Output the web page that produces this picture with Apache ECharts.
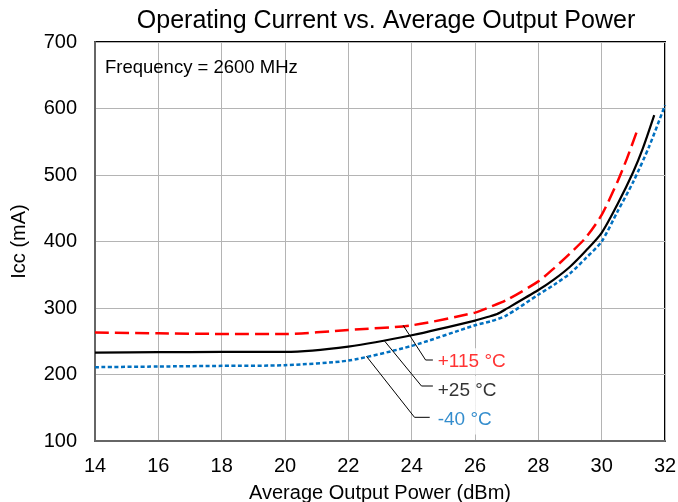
<!DOCTYPE html>
<html>
<head>
<meta charset="utf-8">
<script src="https://cdn.jsdelivr.net/npm/echarts@6/dist/echarts.min.js"></script>
<style>
html,body{margin:0;padding:0;background:#fff;}
#chart{width:678px;height:502px;}
</style>
</head>
<body>
<div id="chart"></div>
<script>
// ---- data ----
const powerHot = [14, 16, 18, 20, 22, 24, 26, 26.5, 27, 28, 28.5, 29, 29.5, 30, 30.5, 30.8, 31.1];
const iccHot   = [263, 262, 261, 261, 267, 274, 293, 302, 312, 340, 360, 382, 406, 440, 490, 525, 564];

const powerRoom = [14, 16, 18, 20, 22, 24, 26, 26.5, 26.7, 27, 28, 28.5, 29, 29.5, 30, 30.5, 31, 31.3, 31.66];
const iccRoom   = [233, 233.5, 234, 234, 242, 259, 281, 288, 291, 299, 327, 343, 362, 386, 413, 456, 505, 540, 590];

const powerCold = [14, 16, 18, 20, 22, 24, 26, 26.5, 27, 28, 28.5, 29, 29.5, 30, 30.5, 31, 31.5, 32];
const iccCold   = [211, 212, 213, 214, 221, 243, 274, 280, 289, 320, 335, 352, 375, 400, 445, 490, 543, 605];

const seriesNames = ['+115 °C', '+25 °C', '-40 °C'];

// leader lines (data coordinates)
const leaderHotX  = [23.73, 24.44, 24.67];
const leaderHotY  = [274, 221.8, 221.8];
const leaderRoomX = [23.15, 24.31, 24.67];
const leaderRoomY = [250, 182.7, 182.7];
const leaderColdX = [22.57, 24.09, 24.57];
const leaderColdY = [227.5, 135.6, 135.6];

// label anchors (data coordinates)
const labelX = [24.57, 24.57, 24.57];
const labelY = [219.8, 175.6, 131.6];

const xTicks = {min: 14, max: 32, interval: 2};
const yTicks = {min: 100, max: 700, interval: 100};

const zip = (xs, ys) => xs.map((x, i) => [x, ys[i]]);
const FONT = "'Liberation Sans', Arial, sans-serif";

const chart = echarts.init(document.getElementById('chart'), null, {renderer: 'canvas'});

const labelColors = ['#FF0000', '#000000', '#0070C0'];
const labelPads = [[0, 8, 6, 8], [4, 8, 6, 8], [4, 8, 5, 8]];

const option = {
  backgroundColor: '#fff',
  animation: false,
  title: [
    {
      text: 'Operating Current vs. Average Output Power',
      left: 381, top: 4, textAlign: 'center',
      textStyle: {fontFamily: FONT, fontSize: 25, fontWeight: 'normal', color: '#000'}
    },
    {
      text: 'Frequency = 2600 MHz',
      left: 100, top: 53,
      textStyle: {fontFamily: FONT, fontSize: 18.5, fontWeight: 'normal', color: '#000'}
    }
  ],
  grid: {
    left: 95, right: 13, top: 42, bottom: 61,
    show: true, borderColor: '#000', borderWidth: 2,
    containLabel: false, outerBoundsMode: 'none'
  },
  xAxis: {
    type: 'value', min: xTicks.min, max: xTicks.max, interval: xTicks.interval,
    name: 'Average Output Power (dBm)', nameLocation: 'middle', nameGap: 42,
    nameTextStyle: {fontFamily: FONT, fontSize: 20, color: '#000'},
    axisLine: {show: true, onZero: false, lineStyle: {color: '#666', width: 2}},
    axisTick: {show: false},
    axisLabel: {fontFamily: FONT, fontSize: 20, color: '#000', margin: 15},
    splitLine: {show: true, lineStyle: {color: '#b4b4b4', width: 1}}
  },
  yAxis: {
    type: 'value', min: yTicks.min, max: yTicks.max, interval: yTicks.interval,
    name: 'Icc (mA)', nameLocation: 'middle', nameGap: 66,
    nameTextStyle: {fontFamily: FONT, fontSize: 20, color: '#000'},
    axisLine: {show: true, onZero: false, lineStyle: {color: '#666', width: 2}},
    axisTick: {show: false},
    axisLabel: {fontFamily: FONT, fontSize: 20, color: '#000', margin: 18},
    splitLine: {show: true, lineStyle: {color: '#b4b4b4', width: 1}}
  },
  series: [
    {
      name: seriesNames[0], type: 'line', data: zip(powerHot, iccHot),
      showSymbol: false, smooth: 0.25, z: 2,
      lineStyle: {color: '#FF0000', width: 2.5, type: [14, 6]}
    },
    {
      name: seriesNames[1], type: 'line', data: zip(powerRoom, iccRoom),
      showSymbol: false, smooth: 0.25, z: 2,
      lineStyle: {color: '#000', width: 2.2, type: 'solid'}
    },
    {
      name: seriesNames[2], type: 'line', data: zip(powerCold, iccCold),
      showSymbol: false, smooth: 0.25, z: 2,
      lineStyle: {color: '#0070C0', width: 2.5, type: [4, 2.5]}
    },
    {
      name: 'labels', type: 'scatter', symbolSize: 0, z: 3, silent: true,
      data: labelX.map((x, i) => ({
        value: [x, labelY[i]],
        label: {
          show: true, position: 'right', distance: 0,
          formatter: seriesNames[i],
          color: labelColors[i], fontFamily: FONT, fontSize: 19,
          lineHeight: 20, width: 74,
          backgroundColor: '#fff', padding: labelPads[i]
        }
      }))
    },
    {
      type: 'line', data: zip(leaderHotX, leaderHotY), showSymbol: false, z: 5, silent: true,
      lineStyle: {color: '#000', width: 1}
    },
    {
      type: 'line', data: zip(leaderRoomX, leaderRoomY), showSymbol: false, z: 5, silent: true,
      lineStyle: {color: '#000', width: 1}
    },
    {
      type: 'line', data: zip(leaderColdX, leaderColdY), showSymbol: false, z: 5, silent: true,
      lineStyle: {color: '#000', width: 1}
    }
  ]
};
chart.setOption(option);
</script>
</body>
</html>
